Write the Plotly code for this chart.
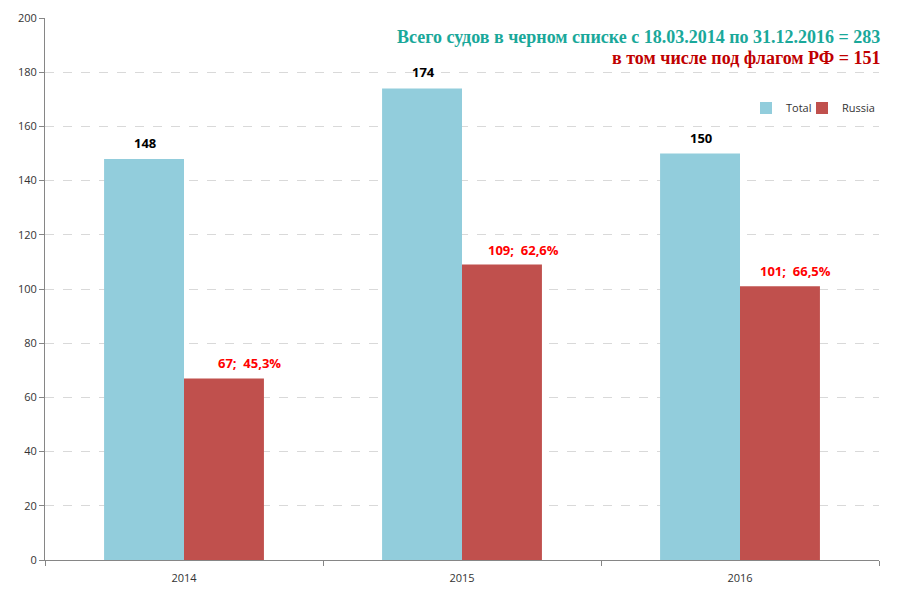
import plotly.graph_objects as go

years = ["2014", "2015", "2016"]
total = [148, 174, 150]
russia = [67, 109, 101]
russia_labels = ["67;  45,3%", "109;  62,6%", "101;  66,5%"]
label_shift = [65, 61, 55]
y_ticks = [0, 20, 40, 60, 80, 100, 120, 140, 160, 180, 200]

fig = go.Figure()
fig.add_trace(go.Bar(x=years, y=total, name="Total", marker_color="#92CDDC",
                     marker_line_width=0, legend="legend"))
fig.add_trace(go.Bar(x=years, y=russia, name="Russia", marker_color="#C0504D",
                     marker_line_width=0, legend="legend2"))

for i, v in enumerate(total):
    fig.add_annotation(
        x=i, y=v, text="<b>" + str(v) + "</b>", showarrow=False,
        xshift=-39, yshift=16, font=dict(family="Open Sans, Arial", size=13, color="#000000"),
    )
for i, (v, lab, sh) in enumerate(zip(russia, russia_labels, label_shift)):
    fig.add_annotation(
        x=i, y=v, text="<b>" + lab + "</b>", showarrow=False,
        xshift=sh, yshift=15, font=dict(family="Open Sans, Arial", size=13, color="#FF0000"),
    )

fig.add_annotation(
    xref="paper", yref="paper", x=1.003, y=(560 - 37) / 542, xanchor="right", yanchor="middle",
    text="<b>Всего судов в черном списке с 18.03.2014 по 31.12.2016 = 283</b>",
    showarrow=False, font=dict(family="Liberation Serif, Times New Roman", size=18, color="#1AA89A"),
)
fig.add_annotation(
    xref="paper", yref="paper", x=1.003, y=(560 - 58) / 542, xanchor="right", yanchor="middle",
    text="<b>в том числе под флагом РФ = 151</b>",
    showarrow=False, font=dict(family="Liberation Serif, Times New Roman", size=18, color="#C00000"),
)

legend_common = dict(
    orientation="h", xref="container", yref="container", xanchor="left", yanchor="middle",
    font=dict(size=11, color="#333333"), bgcolor="rgba(0,0,0,0)", itemwidth=30,
)

fig.update_layout(
    width=900, height=600,
    margin=dict(l=45, r=21, t=18, b=40, autoexpand=False),
    paper_bgcolor="white", plot_bgcolor="white",
    barmode="group", bargap=0.425, bargroupgap=0,
    font=dict(family="Open Sans, Arial", size=11, color="#333333"),
    legend=dict(x=746 / 900, y=1 - 108 / 600, **legend_common),
    legend2=dict(x=802 / 900, y=1 - 108 / 600, **legend_common),
    showlegend=True,
)
fig.update_yaxes(
    range=[0, 200], tickvals=y_ticks, showgrid=True, gridcolor="#D9D9D9", griddash="dash",
    showline=True, linecolor="#868686", linewidth=1, ticks="outside", ticklen=5, tickcolor="#868686",
    tickfont=dict(size=11, color="#333333"), zeroline=False, automargin=False,
)
fig.update_xaxes(
    type="category", range=[-0.5, 2.5], showline=True, linecolor="#868686", linewidth=1,
    ticks="outside", ticklen=5, tickcolor="#868686", tickson="boundaries",
    tickfont=dict(size=11, color="#333333"), automargin=False, tickangle=0,
    ticklabelstandoff=8,
)

fig.write_html("out.html", config={"displayModeBar": False},
               post_script="document.body.style.margin='0';")
